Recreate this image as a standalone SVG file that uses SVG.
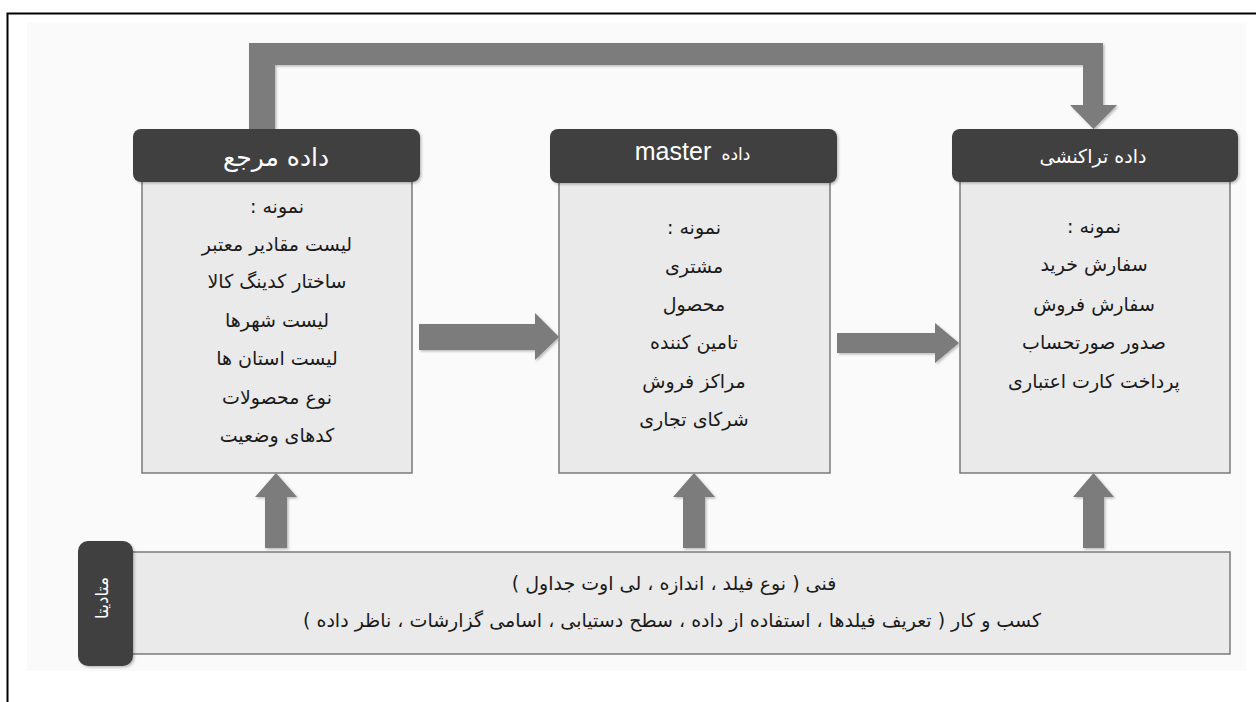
<svg xmlns="http://www.w3.org/2000/svg" width="1256" height="702" viewBox="0 0 1256 702">
<style>
.hdr{fill:#404040;}
.body{fill:#eaeaea;stroke:#7a7a7a;stroke-width:1.5;}
.arr{fill:#7b7b7b;}
.t{font-family:"DejaVu Sans",sans-serif;font-size:19px;fill:#1a1a1a;text-anchor:middle;direction:rtl;dominant-baseline:central;}
.ht{font-family:"DejaVu Sans",sans-serif;fill:#ffffff;text-anchor:middle;dominant-baseline:central;}
</style>
<defs>
<filter id="sh" x="-10%" y="-10%" width="130%" height="130%">
<feDropShadow dx="1.5" dy="1.5" stdDeviation="1.2" flood-color="#000" flood-opacity="0.25"/>
</filter>
</defs>
<rect x="0" y="0" width="1256" height="702" fill="#ffffff"/>
<rect x="27" y="23" width="1219" height="648" fill="#fafafa"/>
<path d="M7.5,702 V13.5 H1256" fill="none" stroke="#000" stroke-width="2"/>

<g id="connectors">
<path class="arr" filter="url(#sh)" d="M249,129 V43 H1103 V105 H1117 L1093.5,129 L1070,105 H1083 V65 H275 V129 Z"/>
<path class="arr" filter="url(#sh)" d="M419,324 H535 V313 L559,337 L535,360 V350 H419 Z"/>
<path class="arr" filter="url(#sh)" d="M837,333 H935 V323 L959,343 L935,363 V353 H837 Z"/>
<path class="arr" filter="url(#sh)" d="M265,548 V497 H255 L276,473 L297,497 H287 V548 Z"/>
<path class="arr" filter="url(#sh)" d="M683,548 V497 H673 L694,473 L715,497 H705 V548 Z"/>
<path class="arr" filter="url(#sh)" d="M1083,548 V497 H1073 L1093.5,473 L1114,497 H1104 V548 Z"/>
</g>

<g id="node-reference">
<rect class="body" x="142" y="175" width="270" height="298"/>
<rect class="hdr" x="133" y="129" width="287" height="53" rx="8" filter="url(#sh)"/>
<text class="ht" x="276" y="157" font-size="25" direction="rtl">داده مرجع</text>
<text class="t" x="277" y="206">نمونه :</text>
<text class="t" x="277" y="244">لیست مقادیر معتبر</text>
<text class="t" x="277" y="281">ساختار کدینگ کالا</text>
<text class="t" x="277" y="320">لیست شهرها</text>
<text class="t" x="277" y="358">لیست استان ها</text>
<text class="t" x="277" y="397">نوع محصولات</text>
<text class="t" x="277" y="435">کدهای وضعیت</text>
</g>

<g id="node-master">
<rect class="body" x="559" y="175" width="271" height="298"/>
<rect class="hdr" x="550" y="129" width="287" height="54" rx="8" filter="url(#sh)"/>
<text class="ht" x="673" y="151" font-size="25" style="font-family:'Liberation Sans',Arial,sans-serif">master</text>
<text class="ht" x="736" y="154" font-size="17" direction="rtl">داده</text>
<text class="t" x="694" y="227">نمونه :</text>
<text class="t" x="694" y="266">مشتری</text>
<text class="t" x="694" y="304">محصول</text>
<text class="t" x="694" y="342">تامین کننده</text>
<text class="t" x="694" y="381">مراکز فروش</text>
<text class="t" x="694" y="419">شرکای تجاری</text>
</g>

<g id="node-transaction">
<rect class="body" x="960" y="175" width="270" height="298"/>
<rect class="hdr" x="952" y="129" width="286" height="53" rx="8" filter="url(#sh)"/>
<text class="ht" x="1093" y="156" font-size="19" direction="rtl">داده تراکنشی</text>
<text class="t" x="1094" y="226">نمونه :</text>
<text class="t" x="1094" y="264">سفارش خرید</text>
<text class="t" x="1094" y="304">سفارش فروش</text>
<text class="t" x="1094" y="342">صدور صورتحساب</text>
<text class="t" x="1094" y="381">پرداخت کارت اعتباری</text>
</g>

<g id="node-metadata">
<rect class="body" x="125" y="552" width="1105" height="102"/>
<rect class="hdr" x="78" y="541" width="55" height="125" rx="10" filter="url(#sh)"/>
<text class="ht" x="0" y="0" font-size="17" direction="rtl" transform="translate(102,598) rotate(-90)">متادیتا</text>
<text class="t" x="674" y="583">فنی ( نوع فیلد ، اندازه ، لی اوت جداول )</text>
<text class="t" x="672" y="620">کسب و کار ( تعریف فیلدها ، استفاده از داده ، سطح دستیابی ، اسامی گزارشات ، ناظر داده )</text>
</g>
</svg>
